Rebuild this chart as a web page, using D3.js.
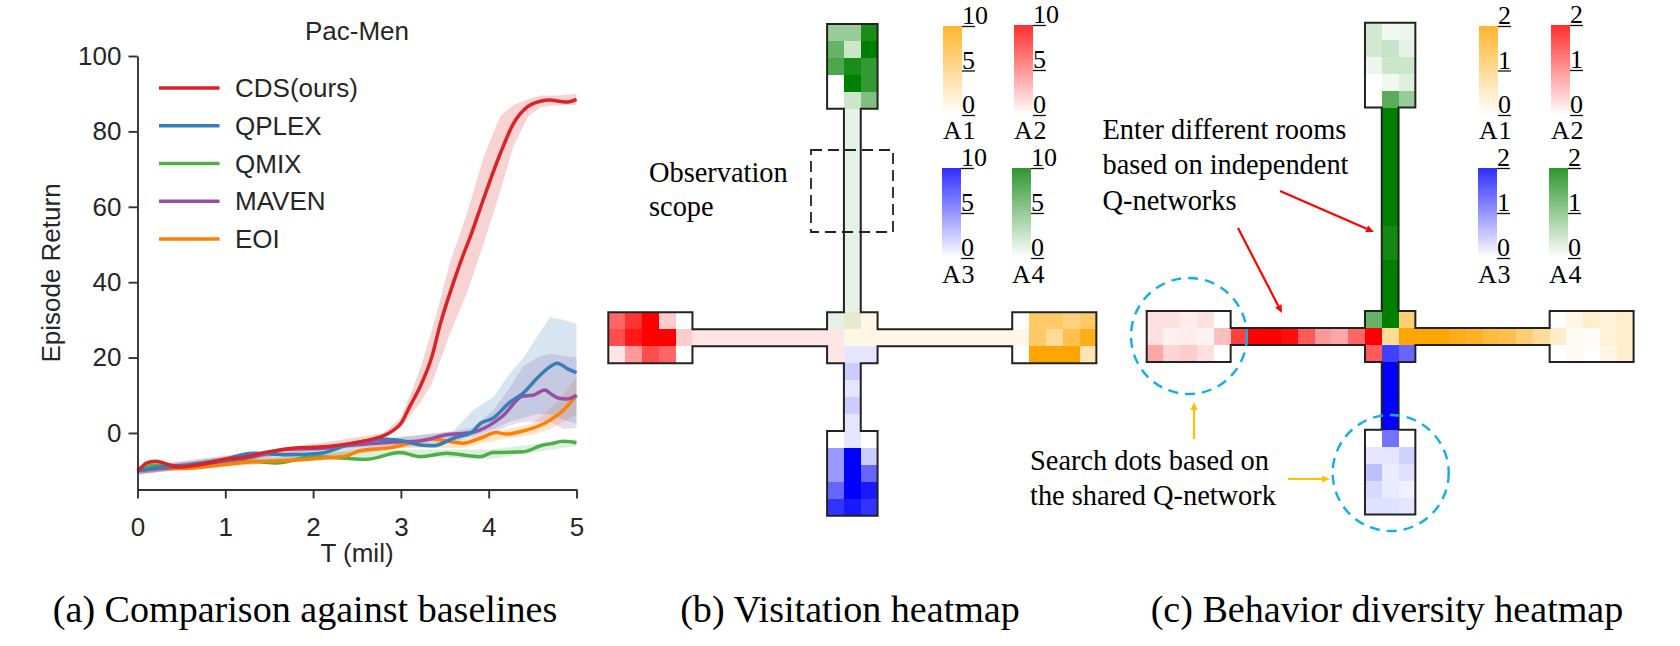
<!DOCTYPE html>
<html><head><meta charset="utf-8">
<script src="https://cdn.jsdelivr.net/npm/d3@7/dist/d3.min.js"></script>
<style>html,body{margin:0;padding:0;background:#fff}svg{display:block}</style>
</head><body><svg id="c" width="1680" height="646"></svg>
<script>
// ---------- line chart data ----------
const chartTitle = "Pac-Men";
const legendNames = ["CDS(ours)","QPLEX","QMIX","MAVEN","EOI"];
const seriesColors = ["#dd2226","#377eb8","#4daf4a","#984ea3","#ff7f00"];
const xTickValues = [0,1,2,3,4,5];
const yTickValues = [0,20,40,60,80,100];

const cdsT = [0,.05,.1,.2,.3,.4,.5,.6,.8,1,1.2,1.5,1.8,2,2.2,2.5,2.7,2.8,2.9,3,3.1,3.22,3.35,3.45,3.6,3.69,3.79,3.94,4.13,4.28,4.44,4.59,4.7,4.8,4.9,5];
const cdsV = [-10,-9,-8,-7.5,-8,-8.7,-9,-8.8,-8,-7,-6.5,-5,-4,-3.8,-3.5,-2.5,-1.5,-.8,.5,2.5,7,12.3,20,29,40,46,52,62,74,82,86.5,88,88.3,88,87.8,88.5];
const cdsBandT = [0,1,2,2.8,3,3.22,3.35,3.57,3.75,3.94,4.13,4.28,4.45,4.6,4.8,5];
const cdsHi = [-9,-6,-3,0,4,17,27,46,58,73,84,87,88.5,89.5,89.5,90];
const cdsLo = [-11,-8,-4.5,-1.5,1.5,8,13,27,37,50,64,76,84,86.5,87,87];

const qplexT = [0,.2,.56,.94,1.32,1.7,2.08,2.46,2.84,3.03,3.22,3.37,3.6,3.82,3.9,4.05,4.24,4.39,4.55,4.7,4.78,4.9,5];
const qplexV = [-10,-9.2,-8.5,-7.2,-5.4,-5.8,-5.4,-2.7,-1.7,-2.1,-3.2,-3.4,-1.4,.4,2.4,3.9,8.1,10.5,14.5,17.6,18.5,17,16];
const qplexBandT = [0,2,3,3.6,3.82,4.05,4.24,4.4,4.55,4.7,4.85,5];
const qplexHi = [-9,-4.5,-1,.5,6,9.5,15.8,20,25.5,30.7,30,29];
const qplexLo = [-11,-6.5,-4,-2.5,-.8,1,3,4,5,5,3.5,2.6];

const qmixT = [0,.19,.56,.94,1.32,1.58,2,2.61,2.99,3.22,3.52,3.9,4.05,4.39,4.62,4.7,4.85,5];
const qmixV = [-10,-8.5,-8.9,-8.2,-7.6,-8,-6.3,-7,-5.2,-6.3,-5.4,-6.3,-5.2,-5,-3.2,-2.9,-2.2,-2.6];
const qmixBandT = [0,2,3,4,5];
const qmixHi = [-9.3,-5.6,-4.4,-4.4,-1.6];
const qmixLo = [-10.7,-7,-6,-7,-3.4];

const mavenT = [0,.2,.56,.94,1.32,1.7,2.08,2.46,2.84,3.22,3.52,3.82,4.16,4.39,4.5,4.64,4.7,4.8,4.9,5];
const mavenV = [-10,-9.5,-8.8,-7.6,-6.3,-4.3,-4.1,-3.2,-2.5,-2.1,-.5,.2,4.5,9.8,10,11.4,10.5,9.2,9,10];
const mavenBandT = [0,2,3,3.6,3.82,4.05,4.24,4.39,4.55,4.7,4.85,5];
const mavenHi = [-9,-3.5,-1.2,.4,1.5,6,12,17.6,20,21,20.5,20];
const mavenLo = [-11,-4.8,-3,-1.3,-1,0,2,3,3,3,1,1.3];

const eoiT = [0,.19,.56,.94,1.32,1.7,2.08,2.38,2.53,2.91,3.14,3.35,3.71,3.9,4.09,4.2,4.39,4.7,4.85,5];
const eoiV = [-10,-9.4,-9.4,-8.5,-7.6,-7.3,-6.7,-6.1,-4.7,-3.8,-2.5,-1.6,-2.7,-1.4,.1,-.3,.5,3.4,6,10];
const eoiBandT = [0,2,3,3.7,4.2,4.5,4.7,4.85,5];
const eoiHi = [-9.3,-6,-2.5,-1.5,1,2.5,6.5,10,15];
const eoiLo = [-10.7,-7.3,-4,-4,-1.5,-.5,1,3,5];

// ---------- heatmap data (b) visitation, scale 0-10 ----------
const visitTop = [[4,4,9],[6,2,10],[7,9,8],[0,10,8],[0,2,5]];
const visitTopHall = [1,1,1,1,1,1,1,1,1,1,1,1];
const visitLeft = [[6,8,10,2,0],[7,9,10,10,2],[1,4,7,6,0]];
const visitLeftHall = [1,1,1,1,1,1,1,1];
const visitRight = [[0,6,6,5,6],[1,6,4,7,9],[0,10,10,10,3]];
const visitRightHall = [1,1,1,1,1,1,1,1];
const visitBottom = [[0,1,0],[4,10,2],[4,10,6],[6,10,9],[8,9,8]];
const visitBottomHall = [2,1,2,1];
const visitCenterGreen = [[1,1,0],[0,0,0],[0,0,0]];
const visitCenterOrange = [[0,1,1],[0,1,1],[0,0,0]];
const visitCenterRed = [[0,0,0],[1,0,0],[1,0,0]];
const visitCenterBlue = [[0,0,0],[0,0,0],[0,1,1]];

// ---------- heatmap data (c) behaviour diversity, scale 0-2 ----------
const diverseTop = [[.36,.12,.16],[.36,.44,.2],[.14,.4,.4],[0,.12,.26],[0,1.3,.8]];
const diverseTopHall = [2,2,2,2,2,2,2,1.85,1.85,2,2,2];
const diverseLeft = [[.24,.24,.16,.24,0],[.24,.12,.14,.1,.5],[.7,.34,.4,.24,0]];
const diverseLeftHall = [1.5,2,2,1.9,1.3,.8,.7,1.2];
const diverseRight = [[0,.2,.4,.3,.4],[.4,.1,.06,.3,.4],[0,.1,0,.2,.4]];
const diverseRightHall = [2,2,1.8,1.7,1.5,1.4,1.1,.8];
const diverseBottom = [[0,1.1,0],[.2,.2,.36],[.5,.16,.24],[.3,.16,.12],[.24,.24,.2]];
const diverseBottomHall = [2,2,2,2];
const diverseCenterGreen = [[1.2,2,0],[0,0,0],[0,0,0]];
const diverseCenterOrange = [[0,0,1.1],[0,.8,2],[0,0,0]];
const diverseCenterRed = [[0,0,0],[2,0,0],[1.3,0,0]];
const diverseCenterBlue = [[0,0,0],[0,0,0],[0,1.5,1.2]];

// ---------- colour bars ----------
const agentNames = ["A1","A2","A3","A4"];
const agentColors = ["#ffa500","#ff0000","#0000ff","#008000"];
const visitBarTicks = [0,5,10];
const diverseBarTicks = [0,1,2];

// ---------- text ----------
const captions = ["(a) Comparison against baselines","(b) Visitation heatmap","(c) Behavior diversity heatmap"];
const scopeLines = ["Observation","scope"];
const enterLines = ["Enter different rooms","based on independent","Q-networks"];
const searchLines = ["Search dots based on","the shared Q-network"];

const svg = d3.select("#c");
const SANS = "'Liberation Sans',Arial,sans-serif", SERIF = "'Liberation Serif','Times New Roman',serif";
const defs = svg.append("defs");

// ---------- panel (a) ----------
const x = d3.scaleLinear([0,5],[137.5,576.5]);
const y = d3.scaleLinear([-15,100],[489.5,56]);
const series = [
 {t:eoiT,v:eoiV,bt:eoiBandT,hi:eoiHi,lo:eoiLo,i:4},
 {t:mavenT,v:mavenV,bt:mavenBandT,hi:mavenHi,lo:mavenLo,i:3},
 {t:qmixT,v:qmixV,bt:qmixBandT,hi:qmixHi,lo:qmixLo,i:2},
 {t:qplexT,v:qplexV,bt:qplexBandT,hi:qplexHi,lo:qplexLo,i:1},
 {t:cdsT,v:cdsV,bt:cdsBandT,hi:cdsHi,lo:cdsLo,i:0}
];
const area = d3.area().x(d=>x(d[0])).y0(d=>y(d[1])).y1(d=>y(d[2]));
const line = d3.line().x(d=>x(d[0])).y(d=>y(d[1])).curve(d3.curveMonotoneX);
const gA = svg.append("g");
series.forEach(s=>{
  gA.append("path").attr("d",area(s.bt.map((t,k)=>[t,s.lo[k],s.hi[k]])))
    .attr("fill",seriesColors[s.i]).attr("fill-opacity",.2);
});
[2,4,3,1,0].forEach(i=>{
  const s = series.find(d=>d.i===i);
  gA.append("path").attr("d",line(s.t.map((t,k)=>[t,s.v[k]])))
    .attr("fill","none").attr("stroke",seriesColors[i]).attr("stroke-width",3.5);
});
const axX = svg.append("g").attr("transform",`translate(0,${y(-15)})`)
  .call(d3.axisBottom(x).tickValues(xTickValues).tickFormat(d3.format("d")).tickSize(9).tickSizeOuter(0).tickPadding(19));
const axY = svg.append("g").attr("transform",`translate(${x(0)},0)`)
  .call(d3.axisLeft(y).tickValues(yTickValues).tickFormat(d3.format("d")).tickSize(9).tickSizeOuter(0).tickPadding(7));
[axX,axY].forEach(a=>{
  a.selectAll("path,line").attr("stroke","#333").attr("stroke-width",1.9);
  a.selectAll("text").attr("fill","#262626").style("font",`26px ${SANS}`);
});
const sansText = (t,xx,yy,anchor)=>svg.append("text").text(t).attr("x",xx).attr("y",yy)
  .attr("text-anchor",anchor||"start").attr("fill","#262626").style("font",`26px ${SANS}`);
sansText(chartTitle,357,40,"middle");
sansText("T (mil)",357,562,"middle");
sansText("Episode Return",0,0,"middle").attr("transform","translate(60,273) rotate(-90)");
const legendY = d3.scalePoint(legendNames,[88,239]);
legendNames.forEach((n,i)=>{
  svg.append("line").attr("x1",159).attr("x2",219.5).attr("y1",legendY(n)).attr("y2",legendY(n))
    .attr("stroke",seriesColors[i]).attr("stroke-width",3.5);
  sansText(n,235,legendY(n)+9);
});

// ---------- heat map ----------
function maze(x0,y0,cw,ch,maxV,d){
  const cx = d3.scaleLinear([0,29],[x0,x0+29*cw]);
  const cy = d3.scaleLinear([0,29],[y0,y0+29*ch]);
  const g = svg.append("g").attr("shape-rendering","crispEdges");
  const cell=(col,row,v,c)=>{ if(v>0) g.append("rect").attr("x",cx(col)).attr("y",cy(row))
     .attr("width",cw).attr("height",ch).attr("fill",c).attr("fill-opacity",v/maxV); };
  const [orange,red,blue,green] = agentColors;
  d.top.forEach((r,i)=>r.forEach((v,j)=>cell(13+j,i,v,green)));
  d.topHall.forEach((v,i)=>cell(14,5+i,v,green));
  d.left.forEach((r,i)=>r.forEach((v,j)=>cell(j,17+i,v,red)));
  d.leftHall.forEach((v,i)=>cell(5+i,18,v,red));
  d.right.forEach((r,i)=>r.forEach((v,j)=>cell(24+j,17+i,v,orange)));
  d.rightHall.forEach((v,i)=>cell(16+i,18,v,orange));
  d.bottom.forEach((r,i)=>r.forEach((v,j)=>cell(13+j,24+i,v,blue)));
  d.bottomHall.forEach((v,i)=>cell(14,20+i,v,blue));
  [[d.cg,green],[d.co,orange],[d.cr,red],[d.cb,blue]].forEach(([m,c])=>
    m.forEach((r,i)=>r.forEach((v,j)=>cell(13+j,17+i,v,c))));
  const outline = [[13,0],[16,0],[16,5],[15,5],[15,17],[16,17],[16,18],[24,18],[24,17],[29,17],[29,20],[24,20],[24,19],[16,19],[16,20],[15,20],[15,24],[16,24],[16,29],[13,29],[13,24],[14,24],[14,20],[13,20],[13,19],[5,19],[5,20],[0,20],[0,17],[5,17],[5,18],[13,18],[13,17],[14,17],[14,5],[13,5]];
  svg.append("path").attr("d",d3.line().x(p=>cx(p[0])).y(p=>cy(p[1])).curve(d3.curveLinearClosed)(outline))
   .attr("fill","none").attr("stroke","#222").attr("stroke-width",2);
}
maze(608.3,24,16.83,16.96,10,{top:visitTop,topHall:visitTopHall,left:visitLeft,leftHall:visitLeftHall,right:visitRight,rightHall:visitRightHall,bottom:visitBottom,bottomHall:visitBottomHall,cg:visitCenterGreen,co:visitCenterOrange,cr:visitCenterRed,cb:visitCenterBlue});
maze(1146.7,22.7,16.79,16.96,2,{top:diverseTop,topHall:diverseTopHall,left:diverseLeft,leftHall:diverseLeftHall,right:diverseRight,rightHall:diverseRightHall,bottom:diverseBottom,bottomHall:diverseBottomHall,cg:diverseCenterGreen,co:diverseCenterOrange,cr:diverseCenterRed,cb:diverseCenterBlue});

// ---------- colour bars ----------
agentColors.forEach((c,i)=>{
  const gr = defs.append("linearGradient").attr("id","cb"+i).attr("x1",0).attr("x2",0).attr("y1",0).attr("y2",1);
  gr.append("stop").attr("offset",0).attr("stop-color",c).attr("stop-opacity",.82);
  gr.append("stop").attr("offset",1).attr("stop-color",c).attr("stop-opacity",0);
});
function colorBar(bx,top,bottom,i,ticks){
  const s = d3.scaleLinear([ticks[0],ticks[2]],[bottom,top]);
  svg.append("rect").attr("x",bx).attr("y",top).attr("width",19).attr("height",bottom-top).attr("fill",`url(#cb${i})`);
  const a = svg.append("g").attr("transform",`translate(${bx+19},0)`)
    .call(d3.axisRight(s).tickValues(ticks).tickFormat(d3.format("d")).tickSize(13).tickSizeOuter(0).tickPadding(0));
  a.select("path").remove();
  a.selectAll("line").attr("stroke","#111").attr("stroke-width",1.3);
  a.selectAll("text").attr("x",0).attr("dy",-2.5).attr("fill","#000").style("font",`26px ${SERIF}`);
  svg.append("text").text(agentNames[i]).attr("x",bx).attr("y",i<2?139:283).attr("fill","#000")
    .style("font",`26px ${SERIF}`).attr("letter-spacing",.6);
}
colorBar(943,26,115,0,visitBarTicks);
colorBar(1014,25,115,1,visitBarTicks);
colorBar(942,168,258,2,visitBarTicks);
colorBar(1012,168,258,3,visitBarTicks);
colorBar(1479,26,115,0,diverseBarTicks);
colorBar(1551,25,115,1,diverseBarTicks);
colorBar(1478,168,258,2,diverseBarTicks);
colorBar(1549,168,258,3,diverseBarTicks);

// ---------- annotations ----------
const serif = (lines,xx,ys,size,anchor)=>lines.forEach((t,i)=>svg.append("text").text(t).attr("x",xx).attr("y",ys[i])
   .attr("text-anchor",anchor||"start").attr("fill","#000").style("font",`${size}px ${SERIF}`));
serif(scopeLines,649,[182,216],28.4);
serif(enterLines,1102.5,[139,174,210],28.4);
serif(searchLines,1030,[470,505],28.4);
serif([captions[0]],305,[622],38.1,"middle");
serif([captions[1]],850,[622],38.1,"middle");
serif([captions[2]],1387,[622],38.1,"middle");
svg.append("rect").attr("x",811).attr("y",150).attr("width",82).attr("height",82).attr("fill","none")
  .attr("stroke","#222").attr("stroke-width",1.8).attr("stroke-dasharray","11 6");
[[1189,336],[1390.7,473]].forEach(([a,b])=>svg.append("circle").attr("cx",a).attr("cy",b).attr("r",58)
  .attr("fill","none").attr("stroke","#11aee8").attr("stroke-width",2.4).attr("stroke-dasharray","10 7"));
function arrow(x1,y1,x2,y2,c){
  const ang=Math.atan2(y2-y1,x2-x1), L=8, W=3.6;
  const bx=x2-L*Math.cos(ang), by=y2-L*Math.sin(ang);
  svg.append("line").attr("x1",x1).attr("y1",y1).attr("x2",bx).attr("y2",by).attr("stroke",c).attr("stroke-width",2.2);
  svg.append("path").attr("fill",c).attr("d",`M${x2},${y2}L${bx-W*Math.sin(ang)},${by+W*Math.cos(ang)}L${bx+W*Math.sin(ang)},${by-W*Math.cos(ang)}Z`);
}
arrow(1280,191,1374,232,"#ff0000");
arrow(1238,228,1282,313,"#ff0000");
arrow(1194,439,1194,402,"#ffc000");
arrow(1288,479,1330,479,"#ffc000");
</script></body></html>
